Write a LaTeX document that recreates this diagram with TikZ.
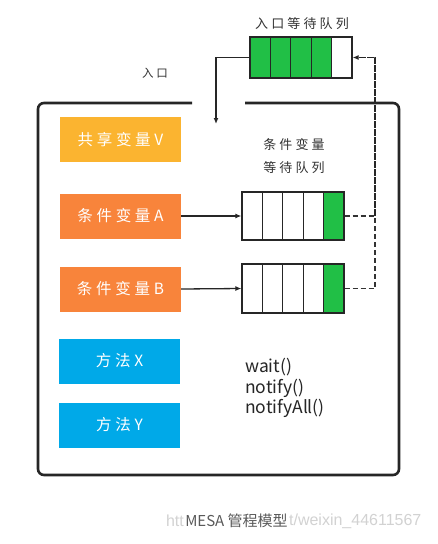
\documentclass[tikz,border=0pt]{standalone}
\usepackage{fontspec}
\setmainfont{Noto Sans CJK SC}
\newfontfamily\handcjk[LetterSpace=24]{Noto Sans CJK SC}
\newfontfamily\wmfont{Liberation Sans}
\usetikzlibrary{arrows.meta}
\definecolor{svyellow}{HTML}{FBB430}
\definecolor{cvorange}{HTML}{F8843B}
\definecolor{mblue}{HTML}{00A9E8}
\definecolor{qgreen}{HTML}{21BF46}
\definecolor{capgray}{HTML}{5A5A5A}
\definecolor{wmgray}{HTML}{D2D2D2}
\tikzset{
  varbox/.style={minimum width=121pt,minimum height=45pt,inner sep=0pt,text=white,
    font=\handcjk\fontsize{15.5}{18}\selectfont},
  qcell/.style={draw=black!85,line width=1.2pt,minimum width=20.4pt,inner sep=0pt},
  qgreen/.style={qcell,fill=qgreen},
  qwhite/.style={qcell,fill=white},
  lbl/.style={font=\handcjk\fontsize{13}{16}\selectfont,text=black!80,inner sep=0pt},
  conn/.style={line width=1.3pt,draw=black!85,-{Latex[length=6pt,width=5pt]}},
  dconn/.style={line width=1.3pt,draw=black!80,dash pattern=on 5pt off 3pt},
  frame/.style={line width=2.6pt,draw=black!85,rounded corners=6pt},
  wm/.style={font=\wmfont\fontsize{16}{18}\selectfont,text=wmgray,inner sep=0pt}
}
\begin{document}
\begin{tikzpicture}[x=1pt,y=-1pt]
\useasboundingbox[fill=white] (0,0) rectangle (437,544);
% frame
\draw[frame] (192,103) -- (38,103) -- (38,475) -- (399,475) -- (399,103) -- (245,103);
% entry queue
\foreach \i/\s in {1/qgreen,2/qgreen,3/qgreen,4/qgreen,5/qwhite}{
  \node[\s,minimum height=41pt] (eq\i) at ({250+10.2+20.4*(\i-1)},57.5) {};
}
\node[lbl] (eqlabel) at (302,24) {入口等待队列};
\node[lbl,font=\handcjk\fontsize{11.5}{14}\selectfont] (entrylabel) at (155,73) {入口};
\coordinate (entry) at (216,124);
\draw[conn] (eq1.west) -| (entry);
% variables
\node[varbox,fill=svyellow] (sv) at (120.5,139.5) {共享变量V};
\node[varbox,fill=cvorange] (ca) at (120.5,216) {条件变量A};
\node[varbox,fill=cvorange] (cb) at (120.5,289) {条件变量B};
\node[varbox,fill=mblue] (mx) at (119.5,361) {方法X};
\node[varbox,fill=mblue] (my) at (119.5,425) {方法Y};
% condition queues
\node[lbl,align=center,font=\handcjk\fontsize{13}{23}\selectfont] (cqlabel) at (294,156) {条件变量\\等待队列};
\foreach \i/\s in {1/qwhite,2/qwhite,3/qwhite,4/qwhite,5/qgreen}{
  \node[\s,minimum height=48pt] (qa\i) at ({242+10.2+20.4*(\i-1)},216) {};
  \node[\s,minimum height=49pt] (qb\i) at ({242+10.2+20.4*(\i-1)},288.5) {};
}
\draw[conn] (ca.east) -- (qa1.west);
\draw[conn] (cb.east) -- (qb1.west);
\coordinate (ra) at (375,216);
\draw[dconn] (qa5.east) -- (ra);
\draw[dconn] (qb5.east) -| (ra);
\draw[conn,dash pattern=on 7pt off 1pt] (ra) |- (eq5.east);
% methods text
\node[anchor=north west,align=left,inner sep=0pt,font=\fontsize{17.5}{20.5}\selectfont,text=black!85] (methods) at (245,358) {wait()\\notify()\\notifyAll()};
% caption
\node[text=capgray,inner sep=0pt,font=\fontsize{15}{18}\selectfont] (caption) at (236.5,521) {MESA 管程模型};
\node[wm,anchor=east] (wmleft) at ([xshift=-1pt]caption.west) {htt};
\node[wm,anchor=west] (wmright) at ([xshift=1pt]caption.east) {t/weixin\_44611567};
\end{tikzpicture}
\end{document}
